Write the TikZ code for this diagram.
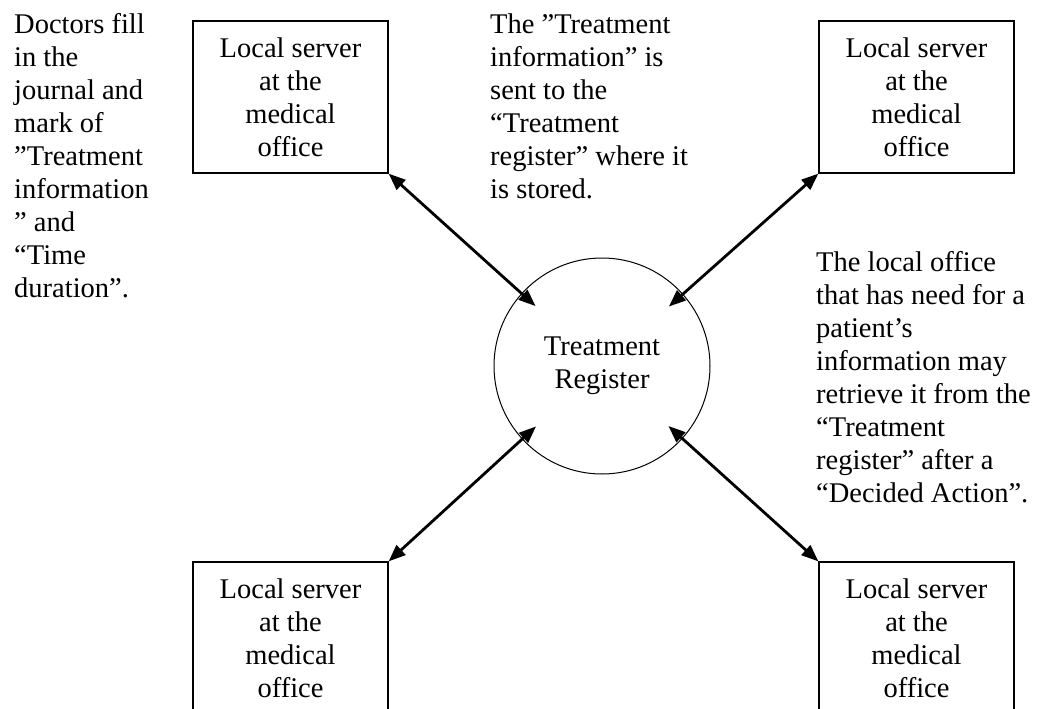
\documentclass[tikz,border=0pt]{standalone}
\usepackage{fontspec}
\setmainfont{Liberation Serif}
\usetikzlibrary{arrows.meta,positioning}

\begin{document}
\begin{tikzpicture}[x=1pt,y=-1pt,
  every node/.style={font=\fontsize{28.5}{33}\selectfont},
  server/.style={rectangle,draw,line width=1.2pt,minimum width=195pt,
                 minimum height=152pt,align=center,inner sep=0pt},
  register/.style={circle,draw,line width=1pt,minimum size=216pt,
                   align=center,inner sep=0pt},
  note/.style={align=left,inner sep=0pt,anchor=north west},
  arr/.style={{Triangle[length=17pt,width=13pt]}-{Triangle[length=17pt,width=13pt]},
              line width=2.8pt,shorten >=-19pt}
]
  \useasboundingbox (0,0) rectangle (1037,709);

  % ---- Local servers in the four corners ----------------------
  \node[server] (tl) at (290.5,97)  {Local server\\at the\\medical\\office};
  \node[server] (tr) at (916.5,97)  {Local server\\at the\\medical\\office};
  \node[server] (bl) at (290.5,638) {Local server\\at the\\medical\\office};
  \node[server] (br) at (916.5,638) {Local server\\at the\\medical\\office};

  % ---- Central register ---------------------------------------
  \node[register] (reg) at (602,366) {Treatment\\Register};

  % Arrows between servers and register
  \draw[arr] (tl.south east) -- (reg);
  \draw[arr] (tr.south west) -- (reg);
  \draw[arr] (bl.north east) -- (reg);
  \draw[arr] (br.north west) -- (reg);

  % ---- Explanatory notes --------------------------------------
  \node[note] (fill) at (14,13.5)
    {Doctors fill\\in the\\journal and\\mark of\\”Treatment\\information\\” and\\“Time\\duration”.};
  \node[note] (sent) at (490,13.5)
    {The ”Treatment\\information” is\\sent to the\\“Treatment\\register” where it\\is stored.};
  \node[note] (fetch) at (816,251.5)
    {The local office\\that has need for a\\patient’s\\information may\\retrieve it from the\\“Treatment\\register” after a\\“Decided Action”.};

\end{tikzpicture}
\end{document}
